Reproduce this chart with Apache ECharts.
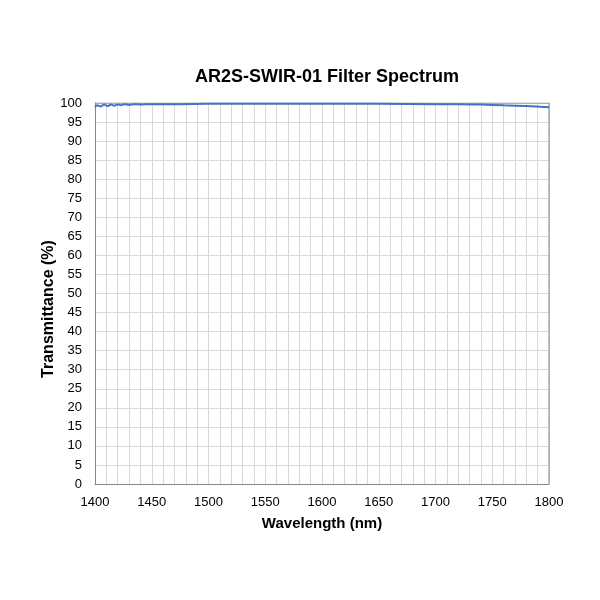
<!DOCTYPE html>
<html>
<head>
<meta charset="utf-8">
<script src="https://cdn.jsdelivr.net/npm/echarts@6/dist/echarts.min.js"></script>
<style>
  html, body { margin: 0; padding: 0; background: #fff; }
  #chart { width: 600px; height: 600px; }
</style>
</head>
<body>
<div id="chart"></div>
<script>
// wavelength (nm) and transmittance (%)
const wavelengths = [1400, 1402, 1405, 1408, 1411, 1414, 1417, 1420, 1423, 1426, 1430,
  1435, 1440, 1450, 1470, 1500, 1550, 1600, 1650, 1700, 1720, 1740, 1760, 1780, 1800];
const transmittance = [98.9, 99.4, 99.1, 99.6, 99.2, 99.6, 99.3, 99.6, 99.4, 99.7, 99.5,
  99.7, 99.6, 99.7, 99.7, 99.8, 99.8, 99.8, 99.8, 99.7, 99.7, 99.6, 99.4, 99.2, 98.9];

const font = "Liberation Sans, Arial, sans-serif";

const chart = echarts.init(document.getElementById("chart"));

chart.setOption({
  animation: false,
  title: {
    text: "AR2S-SWIR-01 Filter Spectrum",
    left: 322,
    top: 63,
    textAlign: "center",
    textStyle: { fontFamily: font, fontSize: 18, fontWeight: "bold", color: "#000" },
  },
  // y axis title placed a bit below the plot centre, as in the original
  graphic: [
    {
      type: "text",
      x: 49,
      y: 309,
      rotation: Math.PI / 2,
      style: {
        text: "Transmittance (%)",
        font: "bold 16px " + font,
        fill: "#000",
        align: "center",
        verticalAlign: "middle",
      },
    },
  ],
  grid: { left: 95, right: 51, top: 103, bottom: 116 },
  xAxis: {
    type: "value",
    min: 1400,
    max: 1800,
    interval: 50,
    name: "Wavelength (nm)",
    nameLocation: "middle",
    nameGap: 32,
    nameTextStyle: { fontFamily: font, fontSize: 15, fontWeight: "bold", color: "#000" },
    axisLine: { lineStyle: { color: "#868686", width: 1 } },
    axisTick: { show: false },
    axisLabel: { fontFamily: font, fontSize: 13, color: "#000", margin: 12, formatter: (v) => String(v) },
    splitLine: { show: true, lineStyle: { color: "#d9d9d9", width: 1 } },
    minorTick: { show: false, splitNumber: 5 },
    minorSplitLine: { show: true, lineStyle: { color: "#d9d9d9", width: 1 } },
  },
  yAxis: {
    type: "value",
    min: 0,
    max: 100,
    interval: 5,
    axisLine: { show: true, lineStyle: { color: "#868686", width: 1 } },
    axisTick: { show: false },
    axisLabel: { fontFamily: font, fontSize: 13, color: "#000", margin: 13 },
    splitLine: { show: true, lineStyle: { color: "#d9d9d9", width: 1 } },
  },
  series: [
    {
      type: "line",
      data: wavelengths.map((w, i) => [w, transmittance[i]]),
      showSymbol: false,
      smooth: 0.3,
      lineStyle: { color: "#4472c4", width: 2 },
      itemStyle: { color: "#4472c4" },
    },
    {
      // plot frame on the top and right
      type: "line",
      data: [[1400, 100], [1800, 100], [1800, 0]],
      showSymbol: false,
      silent: true,
      lineStyle: { color: "#868686", width: 1 },
      z: 1,
    },
  ],
});
</script>
</body>
</html>
